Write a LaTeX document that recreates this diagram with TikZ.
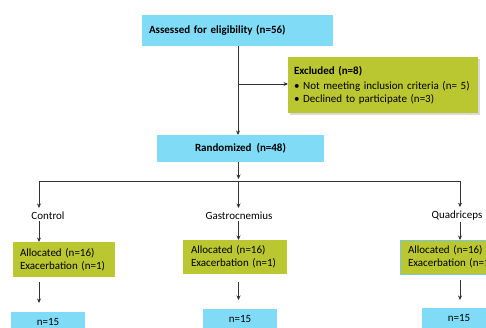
\documentclass[tikz,border=0pt]{standalone}
\usepackage{fontspec}
\setmainfont{Carlito}
\usetikzlibrary{arrows.meta,shadows}
\definecolor{cy}{RGB}{128,219,246}
\definecolor{gr}{RGB}{186,199,48}
\definecolor{lnc}{RGB}{50,50,50}
\definecolor{qb}{RGB}{120,200,220}
\begin{document}
\begin{tikzpicture}[x=1pt,y=-1pt,
  font=\fontsize{11}{13}\selectfont,
  cbox/.style={fill=cy, inner ysep=0pt, outer sep=0pt},
  gbox/.style={fill=gr, inner ysep=0pt, outer sep=0pt},
  conn/.style={draw=lnc, line width=0.7pt},
  arr/.style={conn, -{Stealth[length=4.5pt,width=4pt]}},
  lab/.style={inner sep=1pt}]
\useasboundingbox (0,0) rectangle (486,327);
\clip (0,0) rectangle (486,327);

% top
\node[cbox, minimum width=191pt, minimum height=31pt, text width=177pt, inner xsep=7pt, align=left, font=\fontsize{11}{13}\selectfont\bfseries] (as) at (237.5,30.5) {\mbox{Assessed for eligibility (n=56)}};
\node[gbox, minimum width=190pt, minimum height=56pt, text width=178pt, inner xsep=6pt, align=left,
  drop shadow={shadow xshift=1.5pt, shadow yshift=-1.5pt, opacity=0.3}] (ex) at (383,85)
  {\mbox{\bfseries Excluded (n=8)}\\[2pt]
   \mbox{\textbullet\ Not meeting inclusion criteria (n= 5)}\\
   \mbox{\textbullet\ Declined to participate (n=3)}};
\node[cbox, minimum width=167pt, minimum height=27pt, font=\fontsize{11}{13}\selectfont\bfseries] (rd) at (240.5,148.5) {Randomized\ \ (n=48)};

\coordinate (tx) at (238,0);
\coordinate (br) at (238,84);
\draw[conn] (tx |- as.south) -- (br);
\draw[arr] (br) -- (ex.west |- br);
\draw[arr] (br) -- (tx |- rd.north);

% branches
\coordinate (hub) at (238.5,181);
\coordinate (cL) at (39,181);
\coordinate (cG) at (238.5,181);
\coordinate (cR) at (460,181);
\draw[arr, shorten >=2pt] (hub |- rd.south) -- (hub);
\draw[conn] (cL) -- (cR);

\node[lab] (lc) at (48,216) {Control};
\node[lab] (lg) at (239,216) {Gastrocnemius};
\node[lab] (lq) at (457,216) {Quadriceps};

\draw[arr, shorten >=3pt] (cL) -- (cL |- lc.north);
\draw[arr, shorten >=3pt] (cG) -- (cG |- lg.north);
\draw[arr, shorten >=3pt] (cR) -- (cR |- lq.north);

% allocated
\node[gbox, minimum width=102pt, minimum height=35pt, text width=88pt, inner xsep=7pt, align=left] (ac) at (64,259.5) {\mbox{Allocated (n=16)}\\\mbox{Exacerbation (n=1)}};
\node[gbox, minimum width=104pt, minimum height=34pt, text width=88pt, inner xsep=8pt, align=left] (ag) at (235,257) {\mbox{Allocated (n=16)}\\\mbox{Exacerbation (n=1)}};
\node[gbox, draw=qb, line width=0.6pt, minimum width=104pt, minimum height=34pt, text width=88pt, inner xsep=8pt, align=left] (aq) at (452,257) {\mbox{Allocated (n=16)}\\\mbox{Exacerbation (n=1)}};

\draw[arr] (lc.south -| cL) -- (ac.north -| cL);
\draw[arr] (lg.south -| cG) -- (ag.north -| cG);
\draw[arr] (lq.south -| cR) -- (aq.north -| cR);

% final
\node[cbox, minimum width=74pt, minimum height=20pt] (nc) at (48,322) {n=15};
\node[cbox, minimum width=74pt, minimum height=20pt] (ng) at (240,319) {n=15};
\node[cbox, minimum width=74pt, minimum height=20pt] (nq) at (459,318) {n=15};

\draw[arr, shorten <=5pt, shorten >=9pt] (ac.south -| cL) -- (nc.north -| cL);
\draw[arr, shorten <=8pt, shorten >=9pt] (ag.south -| cG) -- (ng.north -| cG);
\draw[arr, shorten <=6pt, shorten >=8pt] (aq.south -| cR) -- (nq.north -| cR);
\end{tikzpicture}
\end{document}
